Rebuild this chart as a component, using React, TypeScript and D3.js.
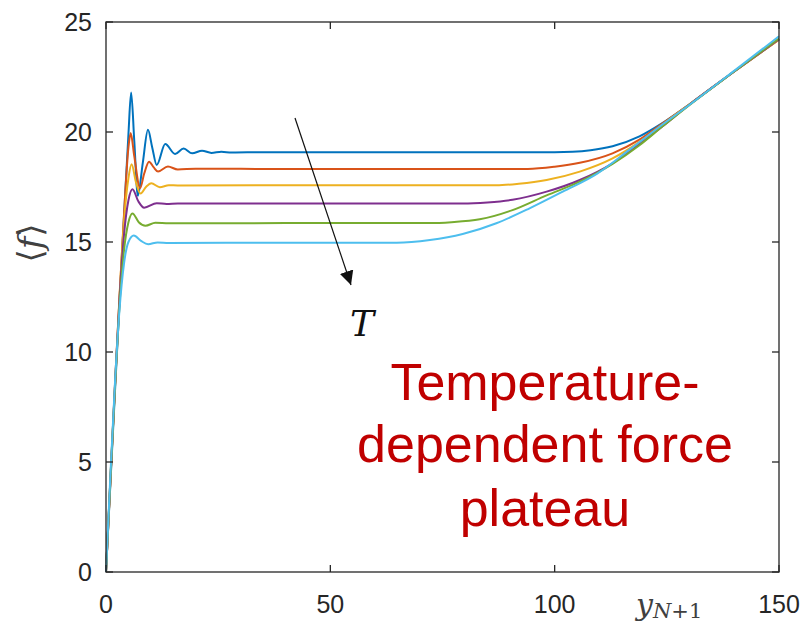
import React from "react";
import * as d3 from "d3";

const xTicks = [0, 50, 100, 150];
const yTicks = [0, 5, 10, 15, 20, 25];
const seriesColors = ["#0072BD", "#D95319", "#EDB120", "#7E2F8E", "#77AC30", "#4DBEEE"];

const blue: [number, number][] = [
  [0, 0], [1, 4.1], [2, 8.2], [3, 12.2], [4, 16.1], [5, 19.9], [5.6, 21.8], [6.3, 19.6], [7.1, 17.1],
  [8.2, 18.6], [9.35, 20.1], [10.3, 19.3], [11.3, 18.5], [13.2, 19.45], [15.4, 19.0], [17.3, 19.25],
  [19.2, 19.03], [21.4, 19.15], [23.5, 19.05], [25.7, 19.1], [28, 19.07], [35, 19.08], [60, 19.08],
  [100, 19.08], [104, 19.1], [108, 19.17], [112.9, 19.35], [118.9, 19.8], [124, 20.4], [130, 21.25],
  [140, 22.75], [150, 24.22],
];
const orange: [number, number][] = [
  [0, 0], [1, 4.2], [2, 8.4], [3, 12.4], [4, 16.2], [5, 19.3], [5.5, 19.95], [6.3, 18.9], [7.6, 17.45],
  [8.5, 18.1], [9.6, 18.65], [10.6, 18.4], [11.6, 18.2], [13.8, 18.43], [16, 18.3], [20, 18.33],
  [40, 18.32], [94, 18.32], [100, 18.42], [105.6, 18.6], [112.9, 19.03], [118.9, 19.65], [124, 20.38],
  [130, 21.25], [140, 22.75], [150, 24.2],
];
const yellow: [number, number][] = [
  [0, 0], [1, 4.3], [2, 8.5], [3, 12.5], [4, 15.9], [5, 17.9], [5.7, 18.53], [6.7, 17.7], [7.7, 17.2],
  [8.9, 17.5], [10.1, 17.67], [12, 17.49], [14, 17.58], [16, 17.57], [40, 17.58], [87, 17.58],
  [92, 17.65], [98.2, 17.82], [105.6, 18.2], [112.9, 18.8], [118.9, 19.55], [124, 20.33], [130, 21.25],
  [140, 22.75], [150, 24.2],
];
const purple: [number, number][] = [
  [0, 0], [1, 4.3], [2, 8.5], [3, 12.4], [4, 15.3], [5, 16.9], [5.9, 17.4], [7.2, 16.85], [8.5, 16.56],
  [11.3, 16.76], [13.5, 16.73], [16, 16.75], [40, 16.75], [79.5, 16.75], [85, 16.8], [90.6, 16.92],
  [98.2, 17.29], [105.6, 17.82], [112.9, 18.58], [118.9, 19.45], [124, 20.25], [130, 21.24], [140, 22.75],
  [150, 24.22],
];
const green: [number, number][] = [
  [0, 0], [1, 4.3], [2, 8.4], [3, 12.1], [4, 14.6], [5, 15.9], [5.9, 16.3], [7.3, 15.9], [8.8, 15.74],
  [11, 15.87], [14, 15.85], [40, 15.86], [72, 15.86], [77, 15.9], [83.3, 16.03], [90.6, 16.45],
  [98.2, 17.12], [105.6, 17.74], [112.9, 18.55], [118.9, 19.4], [124, 20.25], [130, 21.22], [140, 22.75],
  [150, 24.25],
];
const cyan: [number, number][] = [
  [0, 0], [1, 4.5], [2, 8.6], [3, 11.9], [4, 14.0], [5, 15.0], [6.2, 15.29], [7.8, 15.05], [9.4, 14.9],
  [11.5, 14.98], [14, 14.96], [40, 14.97], [64.8, 14.97], [72.2, 15.09], [79.5, 15.36], [87, 15.85],
  [94.4, 16.53], [101.8, 17.29], [109.4, 18.1], [116.7, 19.2], [124.1, 20.35], [130, 21.23],
  [140, 22.78], [150, 24.35],
];
const allSeries = [blue, orange, yellow, purple, green, cyan];
const noteLines = ["Temperature-", "dependent force", "plateau"];

export default function App() {
  const W = 805, H = 634;
  const left = 106, right = 779, top = 22, bottom = 572;
  const x = d3.scaleLinear().domain([0, 150]).range([left, right]);
  const y = d3.scaleLinear().domain([0, 25]).range([bottom, top]);
  const line = d3.line<[number, number]>()
    .x((d) => x(d[0]))
    .y((d) => y(d[1]))
    .curve(d3.curveMonotoneX);
  const axisColor = "#262626";
  const tickLen = 7;
  return (
    <svg width={W} height={H} style={{ position: "absolute", left: 0, top: 0, background: "#fff" }}>
      <defs>
        <marker id="ah" viewBox="0 0 10 10" refX="10" refY="5" markerWidth="14" markerHeight="14"
          markerUnits="userSpaceOnUse" orient="auto">
          <path d="M0,0 L10,5 L0,10 z" fill="#111" />
        </marker>
      </defs>
      <g>
        {allSeries.map((s, i) => (
          <path key={i} d={line(s) || ""} fill="none" stroke={seriesColors[i]} strokeWidth={2} />
        ))}
      </g>
      <rect x={left} y={top} width={right - left} height={bottom - top} fill="none" stroke={axisColor} strokeWidth={1.3} />
      {xTicks.map((t) => (
        <g key={"x" + t}>
          <line x1={x(t)} x2={x(t)} y1={bottom} y2={bottom - tickLen} stroke={axisColor} strokeWidth={1.3} />
          <line x1={x(t)} x2={x(t)} y1={top} y2={top + tickLen} stroke={axisColor} strokeWidth={1.3} />
          <text x={x(t)} y={604} textAnchor="middle" dominantBaseline="central"
            fontFamily="Liberation Sans, Arial, sans-serif" fontSize={25} fill={axisColor}>{t}</text>
        </g>
      ))}
      {yTicks.map((t) => (
        <g key={"y" + t}>
          <line x1={left} x2={left + tickLen} y1={y(t)} y2={y(t)} stroke={axisColor} strokeWidth={1.3} />
          <line x1={right} x2={right - tickLen} y1={y(t)} y2={y(t)} stroke={axisColor} strokeWidth={1.3} />
          <text x={92} y={y(t)} textAnchor="end" dominantBaseline="central"
            fontFamily="Liberation Sans, Arial, sans-serif" fontSize={25} fill={axisColor}>{t}</text>
        </g>
      ))}
      <text transform="translate(42,243) rotate(-90)" textAnchor="middle" fontFamily="DejaVu Serif, serif"
        fontSize={34} fill="#404040">
        <tspan>⟨</tspan><tspan fontStyle="italic">f</tspan><tspan>⟩</tspan>
      </text>
      <text x={636} y={615} fontFamily="DejaVu Serif, serif" fontSize={30} fill="#404040">
        <tspan fontStyle="italic">y</tspan>
        <tspan fontSize={21} dy={3} fontStyle="italic">N</tspan>
        <tspan fontSize={21}>+1</tspan>
      </text>
      <line x1={295} y1={118} x2={351} y2={285} stroke="#111" strokeWidth={1.2} markerEnd="url(#ah)" />
      <text x={362} y={336} textAnchor="middle" fontFamily="DejaVu Serif, serif" fontStyle="italic"
        fontSize={36} fill="#111">T</text>
      {noteLines.map((s, i) => (
        <text key={i} x={545} y={[400, 462, 526][i]} textAnchor="middle"
          fontFamily="Liberation Sans, Arial, sans-serif" fontSize={52} fill="#C00000">{s}</text>
      ))}
    </svg>
  );
}
